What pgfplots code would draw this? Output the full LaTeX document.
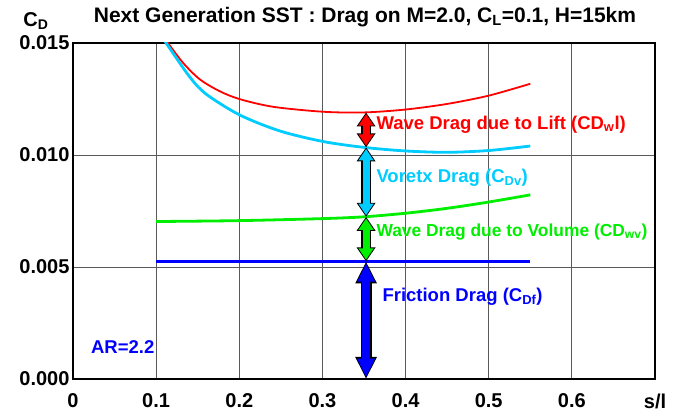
\documentclass[border=0pt]{standalone}
\usepackage{pgfplots}
\pgfplotsset{compat=1.18}
\usepackage{fontspec}
\setmainfont{Liberation Sans}
\usetikzlibrary{arrows.meta}
\definecolor{cR}{RGB}{255,0,0}
\definecolor{cC}{RGB}{0,204,255}
\definecolor{cG}{RGB}{0,238,0}
\definecolor{cB}{RGB}{0,0,255}
\definecolor{gridc}{RGB}{90,90,90}
\newcommand{\tfont}{\bfseries\fontsize{20}{24}\selectfont}
\newcommand{\lfont}{\bfseries\fontsize{18.5}{22}\selectfont}
\tikzset{
  outl/.style={black, line width=9.5pt, {Triangle[width=18pt,length=14pt]}-{Triangle[width=18pt,length=14pt]}},
  inn/.style={#1, line width=7pt, shorten >=1.6pt, shorten <=1.6pt, {Triangle[width=14.5pt,length=11.5pt]}-{Triangle[width=14.5pt,length=11.5pt]}},
  outlB/.style={black, line width=11pt, {Triangle[width=20pt,length=22pt]}-{Triangle[width=20pt,length=22pt]}},
  innB/.style={#1, line width=8.5pt, shorten >=1.8pt, shorten <=1.8pt, {Triangle[width=16.5pt,length=18.5pt]}-{Triangle[width=16.5pt,length=18.5pt]}},
}
\begin{document}
\begin{tikzpicture}
\begin{axis}[
  scale only axis, width=582pt, height=336pt,
  xmin=0, xmax=0.7, ymin=0, ymax=0.015,
  xtick={0,0.1,0.2,0.3,0.4,0.5,0.6,0.7},
  xticklabels={0,0.1,0.2,0.3,0.4,0.5,0.6,s/l},
  ytick={0,0.005,0.01,0.015},
  yticklabels={0.000,0.005,0.010,0.015},
  scaled y ticks=false, scaled x ticks=false,
  tick label style={font=\tfont, text=black},
  major tick length=0pt,
  grid=major,
  major grid style={gridc, line width=0.9pt},
  axis line style={black, line width=2.2pt},
  xticklabel style={yshift=-11pt},
  clip=true,
]
\addplot[cR, line width=1.8pt, smooth] coordinates {
 (0.111,0.01520) (0.1143,0.01500) (0.1327,0.01410) (0.1528,0.01337) (0.1768,0.01284) (0.2009,0.01249)
 (0.241,0.01215) (0.301,0.01193) (0.35,0.01190) (0.4,0.01203) (0.45,0.01228)
 (0.5,0.01265) (0.55,0.01318)};
\addplot[cC, line width=2.8pt, smooth] coordinates {
 (0.109,0.01520) (0.112,0.01500) (0.1407,0.01347) (0.1608,0.01270) (0.2009,0.01178)
 (0.249,0.01107) (0.301,0.01060) (0.35,0.01034) (0.4,0.01018) (0.45,0.01012)
 (0.5,0.01020) (0.55,0.01040)};
\addplot[cG, line width=2.8pt, smooth] coordinates {
 (0.1,0.00703) (0.2,0.00707) (0.3,0.00716) (0.35,0.00724) (0.4,0.00740)
 (0.45,0.00762) (0.5,0.00790) (0.55,0.00822)};
\addplot[cB, line width=2.8pt] coordinates {(0.1,0.00525) (0.55,0.00525)};
% arrows
\addplot[outl] coordinates {(0.3525,0.01034) (0.3525,0.01190)};
\addplot[inn=cR] coordinates {(0.3525,0.01034) (0.3525,0.01190)};
\addplot[outl] coordinates {(0.3525,0.00724) (0.3525,0.01034)};
\addplot[inn=cC] coordinates {(0.3525,0.00724) (0.3525,0.01034)};
\addplot[outl] coordinates {(0.3525,0.00525) (0.3525,0.00724)};
\addplot[inn=cG] coordinates {(0.3525,0.00525) (0.3525,0.00724)};
\addplot[outlB] coordinates {(0.3525,0.0) (0.3525,0.00525)};
\addplot[innB=cB] coordinates {(0.3525,0.0) (0.3525,0.00525)};
\node[anchor=west, text=cR, font=\lfont] at (axis cs:0.3608,0.01137) {Wave Drag due to Lift (CD\textsubscript{w}l)};
\node[anchor=west, text=cC, font=\lfont] at (axis cs:0.3608,0.00900) {Voretx Drag (C\textsubscript{Dv})};
\node[anchor=west, text=cG, font=\bfseries\fontsize{17.4}{20}\selectfont] at (axis cs:0.3608,0.00658) {Wave Drag due to Volume (CD\textsubscript{wv})};
\node[anchor=west, text=cB, font=\lfont] at (axis cs:0.368,0.00367) {Friction Drag (C\textsubscript{Df})};
\node[anchor=west, text=cB, font=\lfont] at (axis cs:0.0175,0.00143) {AR=2.2};
\end{axis}
\node[font=\bfseries\fontsize{21}{25}\selectfont] at ([shift={(1pt,26pt)}]current axis.north) {Next Generation SST : Drag on M=2.0, C\textsubscript{L}=0.1, H=15km};
\node[font=\bfseries\fontsize{20}{24}\selectfont] at ([shift={(-37pt,22pt)}]current axis.north west) {C\textsubscript{D}};
\pgfresetboundingbox
\path[use as bounding box] ([shift={(-73pt,-37pt)}]current axis.south west) rectangle ([shift={(27pt,43pt)}]current axis.north east);
\end{tikzpicture}
\end{document}
